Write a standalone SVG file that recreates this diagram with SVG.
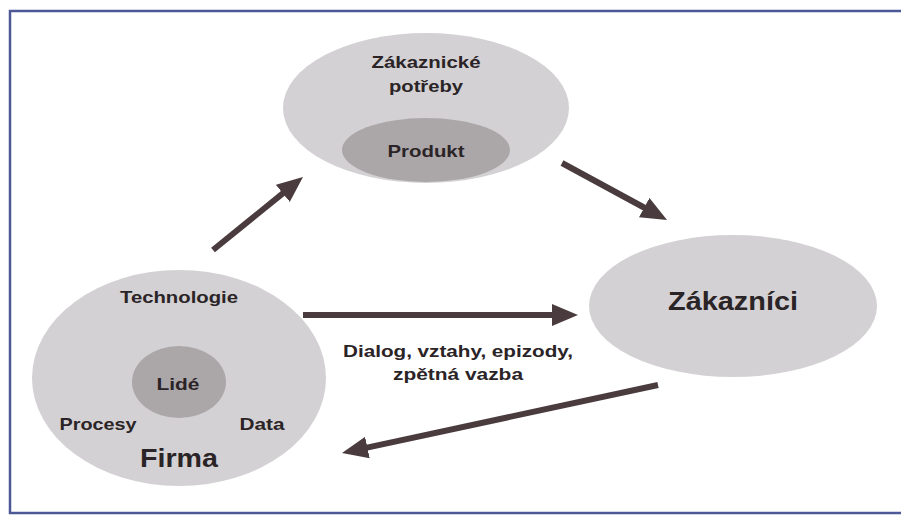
<svg xmlns="http://www.w3.org/2000/svg" width="901" height="516" viewBox="0 0 901 516">
  <defs>
    <style>
      .outer { fill: #d3d1d3; }
      .inner { fill: #aba7a9; }
      .lbl { font-family: "Liberation Sans", Arial, sans-serif; font-weight: bold; fill: #2b2427; text-anchor: middle; }
      .s17 { font-size: 16.5px; }
      .conn { stroke: #4a3b3e; stroke-width: 6; fill: none; marker-end: url(#head); }
    </style>
    <marker id="head" markerUnits="userSpaceOnUse" markerWidth="26" markerHeight="22" refX="4" refY="11" orient="auto">
      <path d="M0,0 L26,11 L0,22 z" fill="#4a3b3e"/>
    </marker>
  </defs>
  <rect x="0" y="0" width="901" height="516" fill="#ffffff"/>
  <rect x="10" y="11" width="900" height="502" fill="none" stroke="#4d5896" stroke-width="2.5"/>

  <g id="zakaznicke-potreby">
    <ellipse class="outer" cx="426" cy="108" rx="143" ry="75"/>
    <ellipse class="inner" cx="426" cy="150" rx="84" ry="32"/>
    <text class="lbl s17" x="426" y="68" textLength="109" lengthAdjust="spacingAndGlyphs">Zákaznické</text>
    <text class="lbl s17" x="426" y="92" textLength="74" lengthAdjust="spacingAndGlyphs">potřeby</text>
    <text class="lbl s17" x="426" y="157" textLength="77" lengthAdjust="spacingAndGlyphs">Produkt</text>
  </g>

  <g id="firma">
    <ellipse class="outer" cx="179" cy="378" rx="147" ry="108"/>
    <ellipse class="inner" cx="179" cy="382" rx="47" ry="36"/>
    <text class="lbl s17" x="179" y="303" textLength="118" lengthAdjust="spacingAndGlyphs">Technologie</text>
    <text class="lbl s17" x="178" y="390" textLength="43" lengthAdjust="spacingAndGlyphs">Lidé</text>
    <text class="lbl s17" x="98" y="430" textLength="77" lengthAdjust="spacingAndGlyphs">Procesy</text>
    <text class="lbl s17" x="262" y="430" textLength="45" lengthAdjust="spacingAndGlyphs">Data</text>
    <text class="lbl" x="179" y="467" font-size="25" textLength="78" lengthAdjust="spacingAndGlyphs">Firma</text>
  </g>

  <g id="zakaznici">
    <ellipse class="outer" cx="733" cy="306" rx="144" ry="71"/>
    <text class="lbl" x="733" y="310" font-size="25" textLength="130" lengthAdjust="spacingAndGlyphs">Zákazníci</text>
  </g>

  <g id="connectors">
    <line class="conn" x1="213" y1="250" x2="285.9" y2="190.9"/>
    <line class="conn" x1="562" y1="163" x2="647.7" y2="209.5"/>
    <line class="conn" x1="303" y1="315" x2="556" y2="315"/>
    <line class="conn" x1="658" y1="385" x2="363.5" y2="448.4"/>
  </g>

  <g id="connector-label">
    <text class="lbl s17" x="458" y="357" textLength="230" lengthAdjust="spacingAndGlyphs">Dialog, vztahy, epizody,</text>
    <text class="lbl s17" x="458" y="380" textLength="130" lengthAdjust="spacingAndGlyphs">zpětná vazba</text>
  </g>
</svg>
